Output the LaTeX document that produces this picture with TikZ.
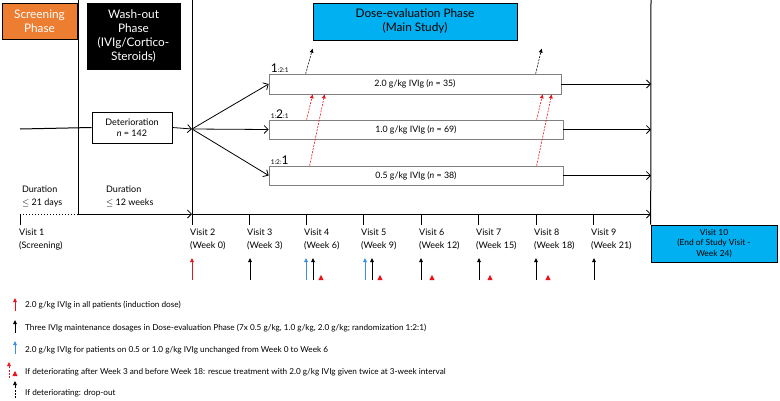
\documentclass[tikz,border=0pt]{standalone}
\usepackage{fontspec}
\setmainfont{Lato}
\usetikzlibrary{
  positioning,
  arrows.meta,
  calc,
}
\definecolor{screenOrange}{HTML}{ED7D31}
\definecolor{doseBlue}{HTML}{00B0F0}
\definecolor{boostBlue}{HTML}{3A8EE6}
\definecolor{rescueRed}{HTML}{E8141B}
\definecolor{armGray}{HTML}{808080}
\tikzset{
  phasebox/.style={
    rectangle, draw=black, align=center, inner sep=1pt,
    font=\fontsize{11.8}{14.3}\selectfont, line width=0.6pt,
  },
  armbox/.style={
    rectangle, draw=armGray, fill=white, minimum height=20,
    font=\fontsize{8.8}{10}\selectfont, line width=0.7pt,
  },
  axis/.style={line width=1pt},
  flow/.style={-{Straight Barb[length=4pt,width=8pt]}, line width=0.8pt},
  dose/.style={-{Triangle[length=4pt,width=3.6pt]}, line width=0.9pt},
  dropout/.style={-{Triangle[length=4pt,width=3.6pt]}, line width=0.6pt, dash pattern=on 2pt off 1.2pt},
  visitlabel/.style={anchor=north west, align=left, inner sep=0pt, font=\fontsize{9}{12.5}\selectfont},
  legendtext/.style={anchor=west, inner sep=0pt, font=\fontsize{8.2}{10}\selectfont},
  ratio/.style={anchor=south west, inner sep=0pt},
}
\newcommand{\rescuemark}[1]{\fill[rescueRed] ($(#1)+(-2.6,0)$) -- ++(5.2,0) -- ++(-2.6,-5) -- cycle;}

\begin{document}
\begin{tikzpicture}[x=1pt, y=-1pt]
  \useasboundingbox (0,0) rectangle (780,400);

  % Phases
  \node[phasebox, fill=screenOrange, text=white, minimum width=75, minimum height=36] (screen) at (39.5,21) {Screening\\Phase};
  \node[phasebox, fill=black, text=white, minimum width=93, minimum height=66] (washout) at (133.5,36) {Wash-out\\Phase\\(IVIg/Cortico-\\Steroids)};
  \node[phasebox, fill=doseBlue, minimum width=204, minimum height=37] (doseeval) at (415,21.5) {Dose-evaluation Phase\\(Main Study)};
  \node[phasebox, fill=doseBlue, minimum width=126, minimum height=37, font=\fontsize{8.4}{10.5}\selectfont] (visitten) at (714,243.5) {Visit 10\\(End of Study Visit -\\Week 24)};

  % Time axis
  \coordinate (start) at (20,129);
  \coordinate (split) at (192,129);
  \coordinate (finish) at (651,214);
  \draw[axis] (78,0) -- (78,214) coordinate (washend);
  \draw[axis] (192,0) -- (192,225);
  \draw[axis] (651,0) -- (visitten.north west);

  \foreach \i/\x in {1/20, 2/192, 3/249, 4/306, 5/363, 6/421, 7/478, 8/536, 9/593} {
    \coordinate (v\i) at (\x,214);
    \draw[axis] (v\i) -- ++(0,11);
  }
  \draw[line width=1pt, dotted] (v1) -- (washend);
  \draw[axis, flow] (washend) -- (v2);
  \draw[axis, flow] (v2) -- (finish);

  \node[visitlabel] (dur1) at (22,186) {Duration\\$\le$ 21 days};
  \node[visitlabel] (dur2) at (106,186) {Duration\\$\le$ 12 weeks};

  % Randomization
  \node[phasebox, minimum width=80, minimum height=31, font=\fontsize{9}{11}\selectfont] (deter) at (132,127.5) {Deterioration\\\textit{n} = 142};
  \draw[axis] (start) -- (deter.west);
  \draw[flow] (deter.east) -- (split);

  \node[armbox, minimum width=292] (armhigh) at (415,84) {2.0 g/kg IVIg (\textit{n} = 35)};
  \node[armbox, minimum width=294, minimum height=19] (armmid) at (416,129.5) {1.0 g/kg IVIg (\textit{n} = 69)};
  \node[armbox, minimum width=294, minimum height=19] (armlow) at (416,175.5) {0.5 g/kg IVIg (\textit{n} = 38)};

  \node[ratio] (rhigh) at ($(armhigh.north west)+(2,-1)$) {\fontsize{12}{12}\selectfont 1\fontsize{6.5}{6.5}\selectfont :2:1};
  \node[ratio] (rmid) at ($(armmid.north west)+(2,-1)$) {\fontsize{6.5}{6.5}\selectfont 1:\fontsize{12}{12}\selectfont 2\fontsize{6.5}{6.5}\selectfont :1};
  \node[ratio] (rlow) at ($(armlow.north west)+(2,-1)$) {\fontsize{6.5}{6.5}\selectfont 1:2:\fontsize{12}{12}\selectfont 1};

  \draw[flow] (split) -- (armhigh.west);
  \draw[flow] (split) -- (armmid.west);
  \draw[flow] (split) -- (armlow.west);
  \draw[flow] (armhigh.east) -- (armhigh.east -| finish);
  \draw[flow] (armmid.east) -- (armmid.east -| finish);
  \draw[flow] (armlow.east) -- (armlow.east -| finish);

  % Drop-out and rescue
  \draw[dropout] ($(armhigh.north west)+(37,0)$) -- ++(7,-25);
  \draw[dropout] ($(armhigh.north west)+(267,0)$) -- ++(6,-25);
  \draw[dropout, rescueRed] ($(armmid.north west)+(38,0)$) -- ($(armhigh.south west)+(44,0)$);
  \draw[dropout, rescueRed] ($(armlow.north west)+(41,0)$) -- ($(armhigh.south west)+(56,0)$);
  \draw[dropout, rescueRed] ($(armmid.north west)+(268,0)$) -- ($(armhigh.south west)+(274,0)$);
  \draw[dropout, rescueRed] ($(armlow.north west)+(268,0)$) -- ($(armhigh.south west)+(283,0)$);

  % Visits
  \node[visitlabel] (lab1) at ($(v1)+(-1,15)$) {Visit 1\\(Screening)};
  \foreach \i/\txt in {2/Week 0, 3/Week 3, 4/Week 6, 5/Week 9, 6/Week 12, 7/Week 15, 8/Week 18, 9/Week 21} {
    \node[visitlabel] (lab\i) at ($(v\i)+(-2,15)$) {Visit \i\\(\txt)};
  }

  \draw[dose, rescueRed] ($(v2)+(0,66)$) -- ++(0,-22);
  \draw[dose] ($(v3)+(1,66)$) -- ++(0,-22);
  \draw[dose, boostBlue] ($(v4)+(0,66)$) -- ++(0,-22);
  \draw[dose] ($(v4)+(7,66)$) -- ++(0,-22);
  \rescuemark{$(v4)+(15,66)$}
  \draw[dose, boostBlue] ($(v5)+(2,66)$) -- ++(0,-22);
  \draw[dose] ($(v5)+(9,66)$) -- ++(0,-22);
  \rescuemark{$(v5)+(17,66)$}
  \draw[dose] ($(v6)+(0,66)$) -- ++(0,-22);
  \rescuemark{$(v6)+(11,66)$}
  \draw[dose] ($(v7)+(1,66)$) -- ++(0,-22);
  \rescuemark{$(v7)+(12,66)$}
  \draw[dose] ($(v8)+(0,66)$) -- ++(0,-22);
  \rescuemark{$(v8)+(12,66)$}
  \draw[dose] ($(v9)+(1,66)$) -- ++(0,-22);

  % Legend
  \node[legendtext] (leg1) at (25,305) {2.0 g/kg IVIg in all patients (induction dose)};
  \node[legendtext] (leg2) at (25,328) {Three IVIg maintenance dosages in Dose-evaluation Phase (7x 0.5 g/kg, 1.0 g/kg, 2.0 g/kg; randomization 1:2:1)};
  \node[legendtext] (leg3) at (25,350) {2.0 g/kg IVIg for patients on 0.5 or 1.0 g/kg IVIg unchanged from Week 0 to Week 6};
  \node[legendtext] (leg4) at (25,372) {If deteriorating after Week 3 and before Week 18: rescue treatment with 2.0 g/kg IVIg given twice at 3-week interval};
  \node[legendtext] (leg5) at (25,393) {If deteriorating: drop-out};

  \draw[dose, rescueRed] ($(leg1.west)+(-10,6)$) -- ++(0,-13);
  \draw[dose] ($(leg2.west)+(-10,5)$) -- ++(0,-13);
  \draw[dose, boostBlue] ($(leg3.west)+(-10,4)$) -- ++(0,-13);
  \draw[dropout, rescueRed] ($(leg4.west)+(-16,6)$) -- ++(0,-16);
  \rescuemark{$(leg4.west)+(-10,4)$}
  \draw[dropout] ($(leg5.west)+(-10,5)$) -- ++(0,-17);

\end{tikzpicture}
\end{document}
